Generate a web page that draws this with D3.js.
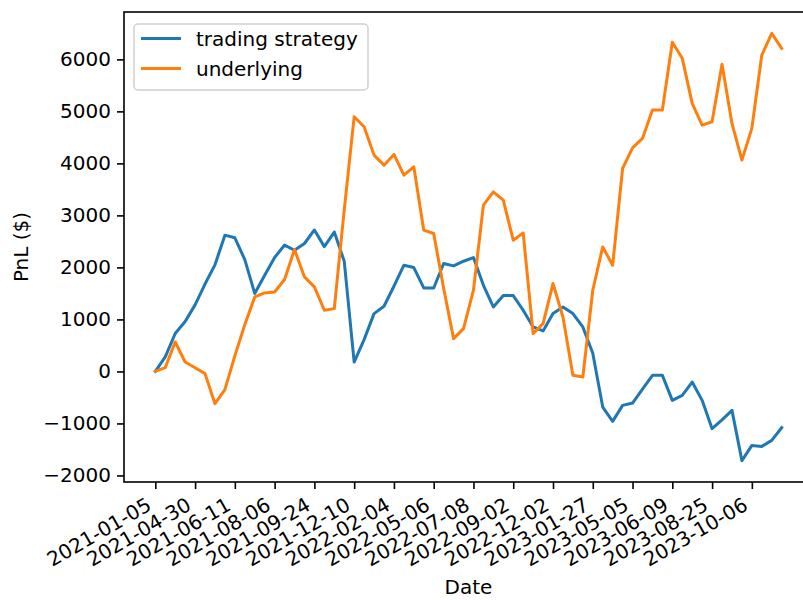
<!DOCTYPE html>
<html lang="en">
<head>
<meta charset="UTF-8">
<title>PnL</title>
<script src="https://d3js.org/d3.v7.min.js"></script>
<style>
    body { margin: 0; background: #fff; }
    text { font-family: "DejaVu Sans", sans-serif; fill: #000; }
</style>
</head>
<body>
<script>
    // dates shown as tick labels (every 4th trading row)
    var tickLabels = ["2021-01-05", "2021-04-30", "2021-06-11", "2021-08-06", "2021-09-24", "2021-12-10",
        "2022-02-04", "2022-05-06", "2022-07-08", "2022-09-02", "2022-12-02", "2023-01-27",
        "2023-05-05", "2023-06-09", "2023-08-25", "2023-10-06"];

    var strategy = [0, 280, 730, 960, 1280, 1680, 2050, 2620, 2570, 2150,
        1500, 1850, 2190, 2430, 2330, 2460, 2720, 2400, 2680, 2120,
        180, 612, 1112, 1253, 1638, 2042, 1997, 1605, 1605, 2075,
        2029, 2119, 2190, 1657, 1240, 1459, 1459, 1176, 855, 778,
        1112, 1240, 1112, 855, 350, -685, -960, -652, -608, -340,
        -75, -75, -556, -460, -204, -556, -1101, -930, -749, -1715,
        -1422, -1441, -1326, -1082];

    var underlying = [0, 73, 566, 181, 70, -42, -620, -350, 300, 900,
        1432, 1509, 1528, 1767, 2344, 1817, 1625, 1176, 1208, 3100,
        4896, 4704, 4159, 3966, 4172, 3774, 3934, 2716, 2652, 1600,
        631, 824, 1561, 3197, 3453, 3293, 2523, 2664, 727, 920,
        1690, 1047, -75, -107, 1561, 2394, 2042, 3903, 4300, 4480,
        5025, 5025, 6328, 6020, 5154, 4736, 4800, 5905, 4769, 4063,
        4673, 6083, 6500, 6212];

    var yTicks = [-2000, -1000, 0, 1000, 2000, 3000, 4000, 5000, 6000];

    var width = 803, height = 600;
    var axL = 124, axR = 813, axT = 12, axB = 482;
    var fs = 20;

    var svg = d3.select("body").append("svg")
        .attr("width", width)
        .attr("height", height);

    var n = strategy.length;
    var x = d3.scaleLinear()
        .domain([-0.05 * (n - 1), (n - 1) * 1.05])
        .range([axL, axR]);

    var all = strategy.concat(underlying);
    var lo = d3.min(all), hi = d3.max(all), pad = (hi - lo) * 0.05;
    var y = d3.scaleLinear()
        .domain([lo - pad, hi + pad])
        .range([axB, axT]);

    var fmt = function(d) { return d < 0 ? "\u2212" + Math.abs(d) : String(d); };

    // y axis
    var gy = svg.append("g")
        .attr("transform", "translate(" + axL + ",0)")
        .call(d3.axisLeft(y).tickValues(yTicks).tickSize(7).tickPadding(6).tickFormat(fmt));
    gy.select(".domain").remove();
    gy.selectAll("text").style("font-size", fs + "px").attr("font-family", "DejaVu Sans").attr("fill", "#222");
    gy.selectAll("line").attr("stroke-width", 1.6);

    // x axis
    var xt = d3.range(0, n, 4);
    var gx = svg.append("g")
        .attr("transform", "translate(0," + axB + ")")
        .call(d3.axisBottom(x).tickValues(xt).tickSize(7).tickFormat(function(d, i) { return tickLabels[i]; }));
    gx.select(".domain").remove();
    gx.selectAll("line").attr("stroke-width", 1.6);
    gx.selectAll("text")
        .style("font-size", fs + "px")
        .attr("font-family", "DejaVu Sans")
        .attr("fill", "#222")
        .attr("text-anchor", "end")
        .attr("dy", null)
        .attr("y", null)
        .attr("transform", "translate(-3,27) rotate(-30)");

    // lines
    var line = d3.line()
        .x(function(d, i) { return x(i); })
        .y(function(d) { return y(d); });

    svg.append("clipPath").attr("id", "clip")
        .append("rect").attr("x", axL).attr("y", axT).attr("width", axR - axL).attr("height", axB - axT);

    svg.append("path").datum(strategy)
        .attr("d", line)
        .attr("clip-path", "url(#clip)")
        .attr("fill", "none")
        .attr("stroke", "#1f77b4")
        .attr("stroke-width", 3)
        .attr("stroke-linejoin", "round")
        .attr("stroke-linecap", "square");

    svg.append("path").datum(underlying)
        .attr("d", line)
        .attr("clip-path", "url(#clip)")
        .attr("fill", "none")
        .attr("stroke", "#ff7f0e")
        .attr("stroke-width", 3)
        .attr("stroke-linejoin", "round")
        .attr("stroke-linecap", "square");

    // spines
    svg.append("rect")
        .attr("x", axL).attr("y", axT)
        .attr("width", axR - axL).attr("height", axB - axT)
        .attr("fill", "none").attr("stroke", "#000").attr("stroke-width", 1.6);

    // axis labels
    svg.append("text")
        .attr("x", (axL + axR) / 2).attr("y", 594)
        .attr("text-anchor", "middle")
        .attr("fill", "#222")
        .style("font-size", fs + "px")
        .text("Date");

    svg.append("text")
        .attr("transform", "translate(28," + (axT + axB) / 2 + ") rotate(-90)")
        .attr("text-anchor", "middle")
        .attr("fill", "#222")
        .style("font-size", fs + "px")
        .text("PnL ($)");

    // legend
    var lg = svg.append("g");
    lg.append("rect")
        .attr("x", 134).attr("y", 24).attr("width", 234).attr("height", 66)
        .attr("rx", 4)
        .attr("fill", "#fff").attr("fill-opacity", 0.8)
        .attr("stroke", "#d0d0d0").attr("stroke-width", 1.5);
    var items = [["trading strategy", "#1f77b4"], ["underlying", "#ff7f0e"]];
    items.forEach(function(it, k) {
        var ly = 38.5 + k * 30;
        lg.append("line")
            .attr("x1", 141).attr("x2", 181).attr("y1", ly).attr("y2", ly)
            .attr("stroke", it[1]).attr("stroke-width", 3);
        lg.append("text")
            .attr("x", 196).attr("y", ly + 7)
            .attr("fill", "#222")
            .style("font-size", fs + "px")
            .text(it[0]);
    });
</script>
</body>
</html>
